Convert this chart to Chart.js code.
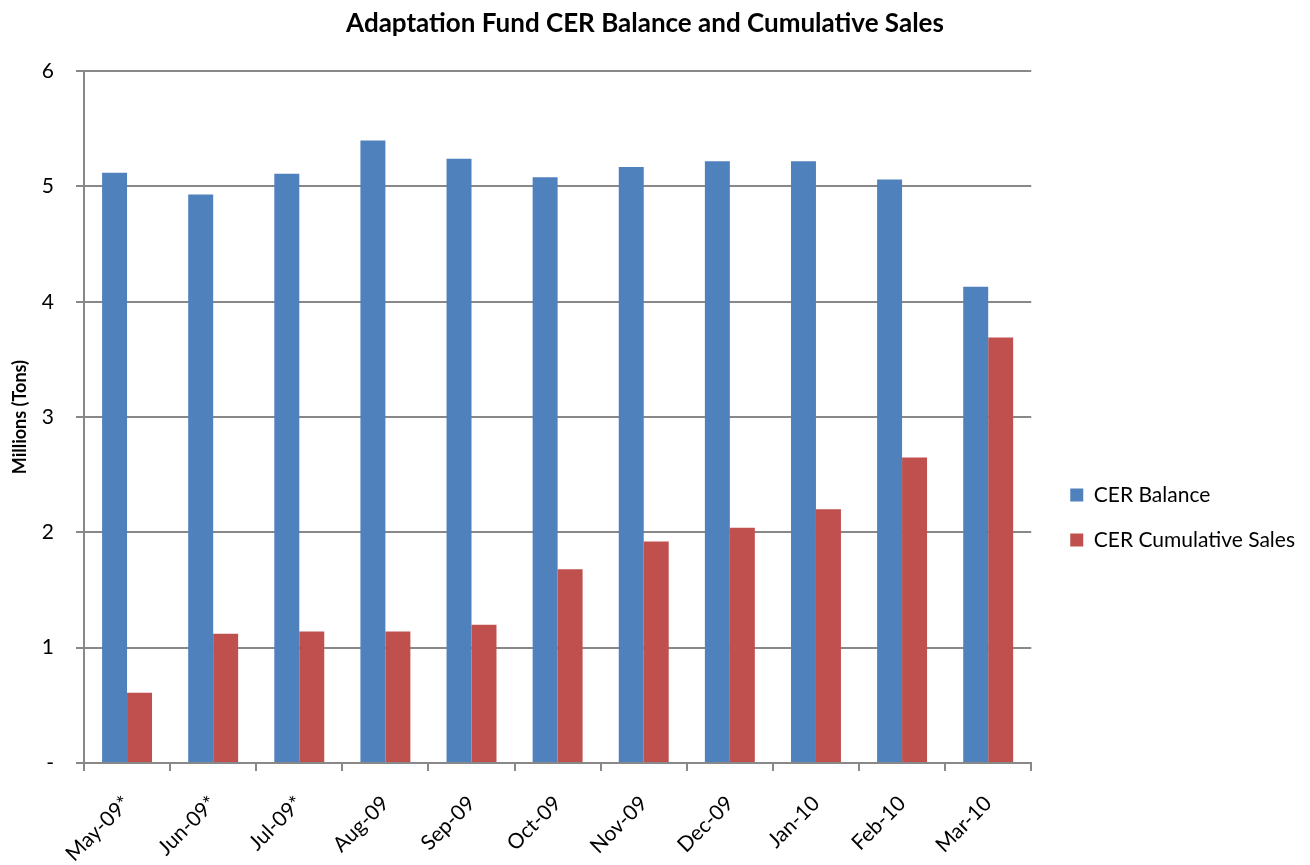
<!DOCTYPE html>
<html>
<head>
<meta charset="utf-8">
<script src="https://cdn.jsdelivr.net/npm/chart.js@4"></script>
<style>
  body { margin: 0; background: #fff; }
</style>
</head>
<body>
<canvas id="cerChart" width="1310" height="865"></canvas>
<script>
  // months, with * marking partial months
  const categories = ['May-09*', 'Jun-09*', 'Jul-09*', 'Aug-09', 'Sep-09', 'Oct-09', 'Nov-09', 'Dec-09', 'Jan-10', 'Feb-10', 'Mar-10'];
  const cerBalance = [5.12, 4.93, 5.11, 5.40, 5.24, 5.08, 5.17, 5.22, 5.22, 5.06, 4.13];
  const cerCumulativeSales = [0.61, 1.12, 1.14, 1.14, 1.20, 1.68, 1.92, 2.04, 2.20, 2.65, 3.69];
  const yTickLabels = ['-', '1', '2', '3', '4', '5', '6'];

  const FONT = 'Lato, "Open Sans", sans-serif';
  Chart.defaults.font.family = FONT;
  Chart.defaults.color = '#000';

  // nudge the legend: lower than middle and a bit to the right
  const legendShift = {
    id: 'legendShift',
    afterLayout: function (chart) {
      const lg = chart.legend;
      if (lg) {
        lg.top += 85;
        lg.bottom += 85;
        lg.left += 15;
        lg.right += 15;
      }
    }
  };

  const ctx = document.getElementById('cerChart').getContext('2d');
  const cerChart = new Chart(ctx, {
    type: 'bar',
    data: {
      labels: categories,
      datasets: [{
        label: 'CER Balance',
        data: cerBalance,
        backgroundColor: '#4F81BD'
      }, {
        label: 'CER Cumulative Sales',
        data: cerCumulativeSales,
        backgroundColor: '#C0504D'
      }]
    },
    options: {
      responsive: false,
      animation: false,
      devicePixelRatio: 1,
      layout: { padding: { left: 0, right: 20, top: 0, bottom: 0 } },
      datasets: {
        bar: { categoryPercentage: 0.58, barPercentage: 1.0 }
      },
      plugins: {
        title: {
          display: true,
          text: 'Adaptation Fund CER Balance and Cumulative Sales',
          font: { size: 26, weight: 'bold' },
          padding: { top: 8, bottom: 32 }
        },
        legend: {
          position: 'right',
          labels: {
            boxWidth: 13,
            boxHeight: 13,
            padding: 24,
            font: { size: 21 }
          }
        },
        tooltip: { enabled: false }
      },
      scales: {
        x: {
          border: { color: '#888', width: 2 },
          grid: { drawOnChartArea: false, color: '#888', lineWidth: 2, tickLength: 8 },
          ticks: { maxRotation: 45, minRotation: 45, font: { size: 21 }, padding: 20 },
          afterFit: function (scale) { scale.height = 102; }
        },
        y: {
          min: 0,
          max: 6,
          border: { color: '#888', width: 2 },
          grid: { color: '#888', lineWidth: 2, tickLength: 8 },
          ticks: {
            stepSize: 1,
            font: { size: 21 },
            padding: 22,
            callback: function (v) { return yTickLabels[v]; }
          },
          title: {
            display: true,
            text: 'Millions (Tons)',
            font: { size: 18, weight: 'bold' },
            padding: { top: 9, bottom: 0 }
          },
          afterFit: function (scale) { scale.width = 84; }
        }
      }
    },
    plugins: [legendShift]
  });
</script>
</body>
</html>
